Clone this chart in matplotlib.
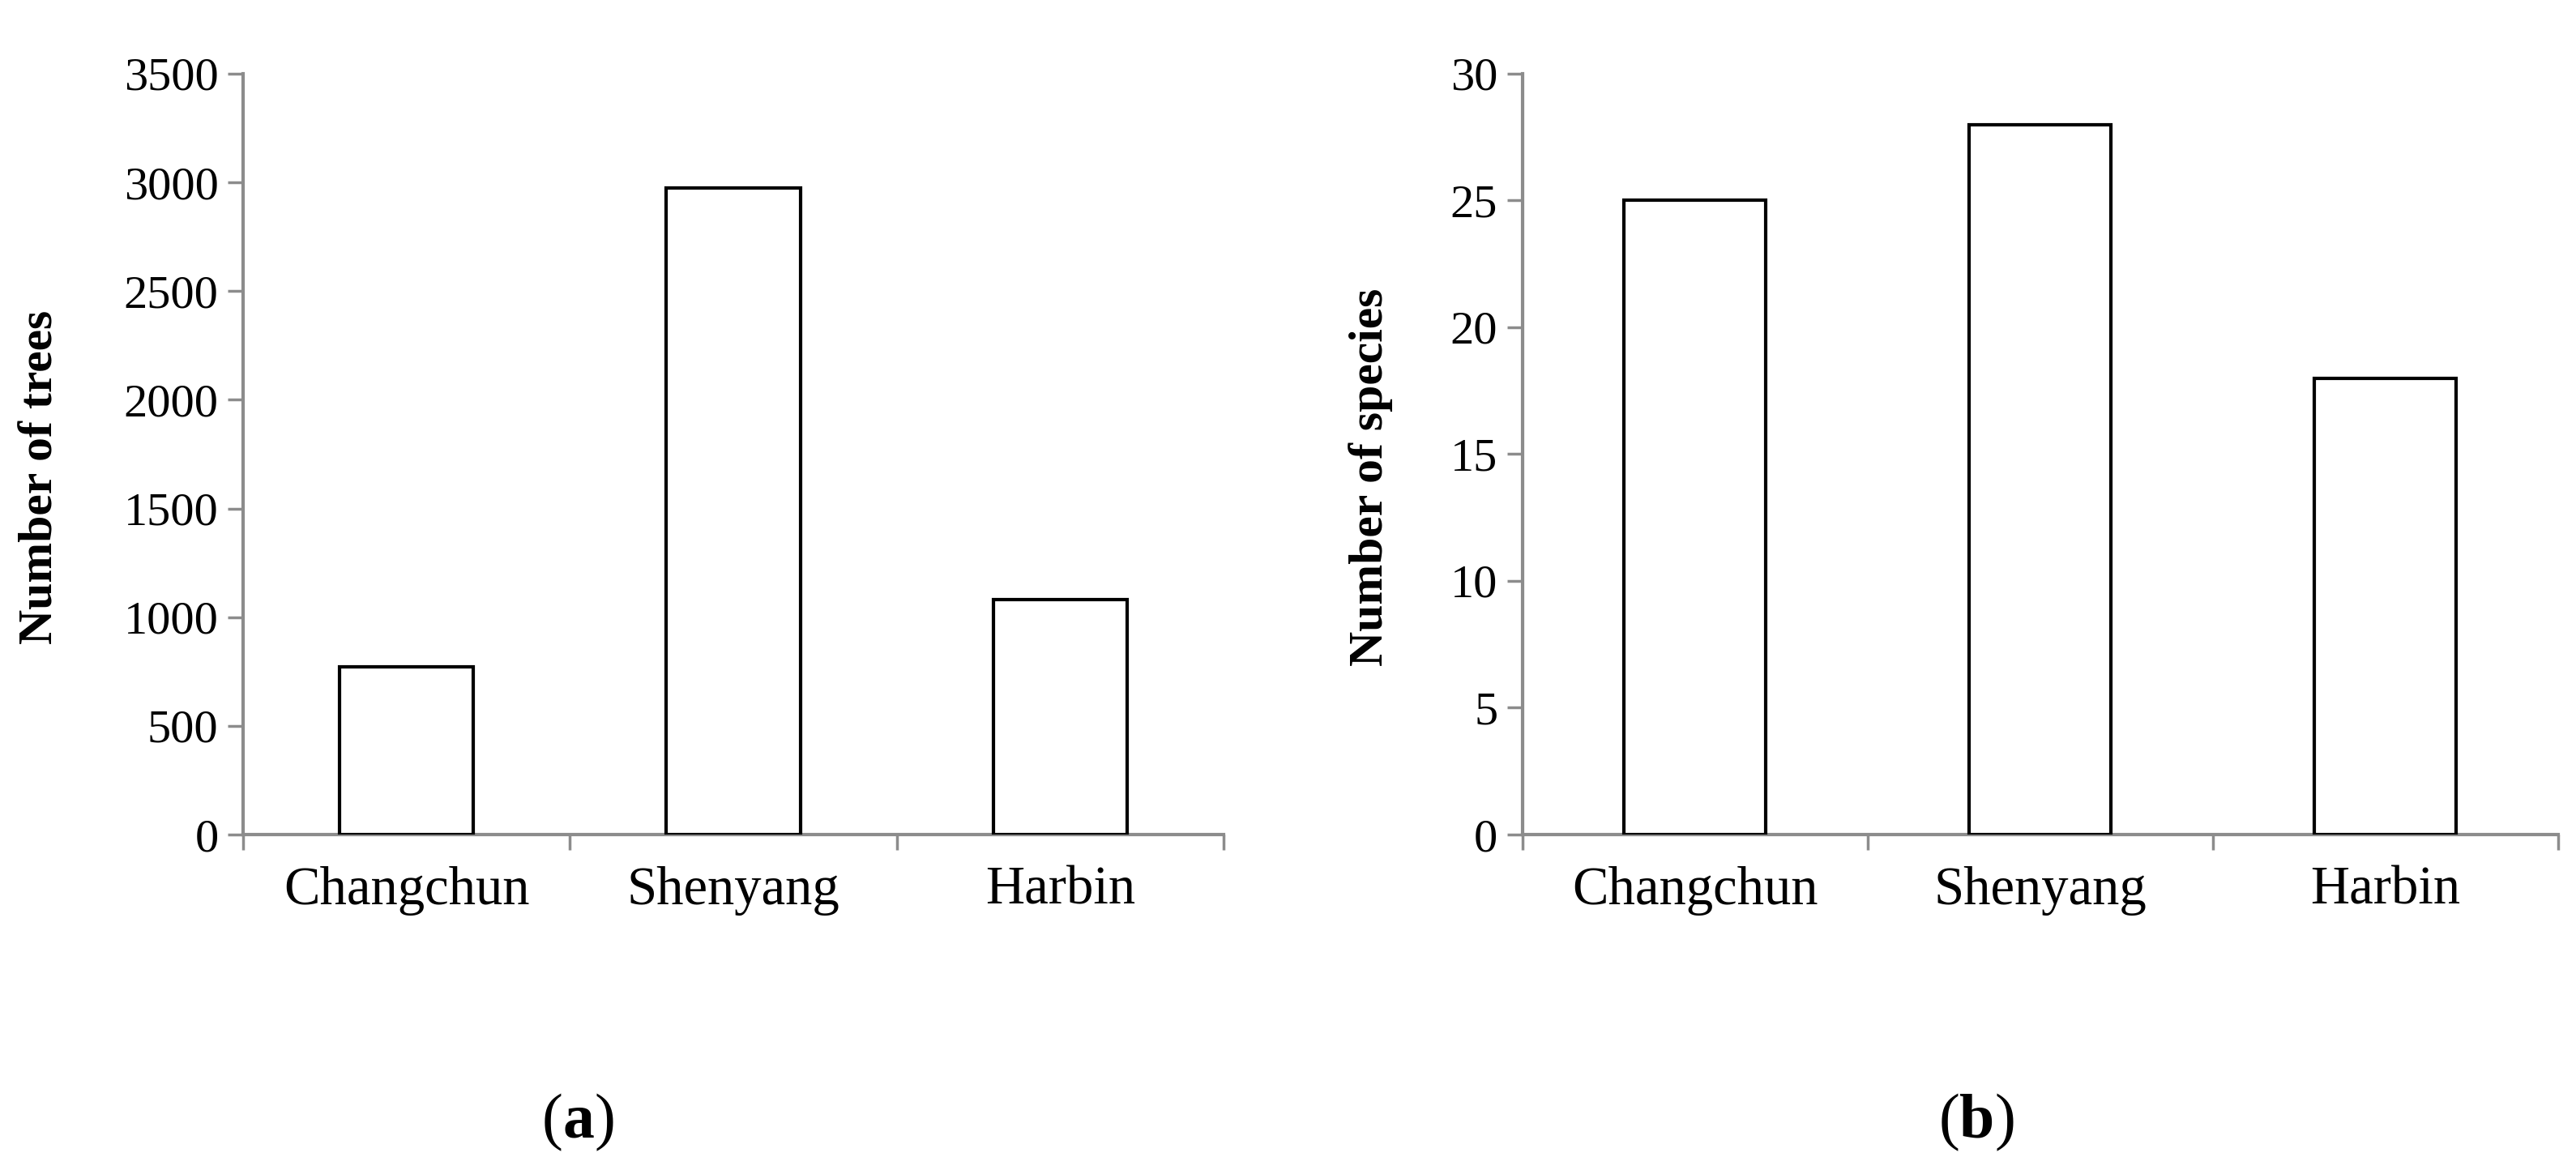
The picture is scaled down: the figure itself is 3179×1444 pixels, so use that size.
import numpy as np
import matplotlib
matplotlib.use("Agg")
import matplotlib.pyplot as plt

plt.rcParams['font.family'] = ['Liberation Serif', 'DejaVu Serif']

cities = ["Changchun", "Shenyang", "Harbin"]
trees = [772, 2975, 1080]
species = [25, 28, 18]

grey = "#8c8c8c"

fig = plt.figure(figsize=(31.79, 14.44), dpi=100)
ax_a = fig.add_axes([0.0944, 0.2867, 0.3806, 0.6503])
ax_b = fig.add_axes([0.591, 0.2867, 0.402, 0.6503])


def style_axis(ax, values, ymax, ystep, ylabel, label_x):
    x = np.arange(len(values))
    ax.bar(x, values, width=0.41, color="white", edgecolor="black", linewidth=3, zorder=3)
    ax.set_xlim(-0.5, len(values) - 0.5)
    ax.set_ylim(0, ymax)
    ax.set_yticks(np.arange(0, ymax + ystep, ystep))
    ax.set_xticks(np.arange(-0.5, len(values), 1.0))
    ax.set_xticklabels([])
    ax.set_xticks(x, minor=True)
    ax.set_xticklabels(cities, minor=True)
    ax.tick_params(axis="x", which="minor", length=0, pad=28, labelsize=48)
    ax.tick_params(axis="x", which="major", length=14, width=2.5, color=grey)
    ax.tick_params(axis="y", length=14, width=2.5, color=grey, labelsize=42, pad=8)
    for side in ["top", "right"]:
        ax.spines[side].set_visible(False)
    for side in ["left", "bottom"]:
        ax.spines[side].set_color(grey)
        ax.spines[side].set_linewidth(3)
    ax.set_ylabel(ylabel, fontsize=43, fontweight="bold")
    ax.yaxis.set_label_coords(label_x, 0.47)


style_axis(ax_a, trees, 3500, 500, "Number of trees", -0.184)
style_axis(ax_b, species, 30, 5, "Number of species", -0.125)

# panel captions: bold letter inside plain parentheses
renderer = fig.canvas.get_renderer()
for cx, letter in [(0.2245, "a"), (0.7675, "b")]:
    y = 0.016
    mid = fig.text(cx, y, letter, fontsize=56, fontweight="bold", ha="center", va="bottom")
    bb = mid.get_window_extent(renderer=renderer).transformed(fig.transFigure.inverted())
    fig.text(bb.x0, y, "(", fontsize=56, ha="right", va="bottom")
    fig.text(bb.x1, y, ")", fontsize=56, ha="left", va="bottom")

fig.savefig("out.png", dpi=100, facecolor="white")
